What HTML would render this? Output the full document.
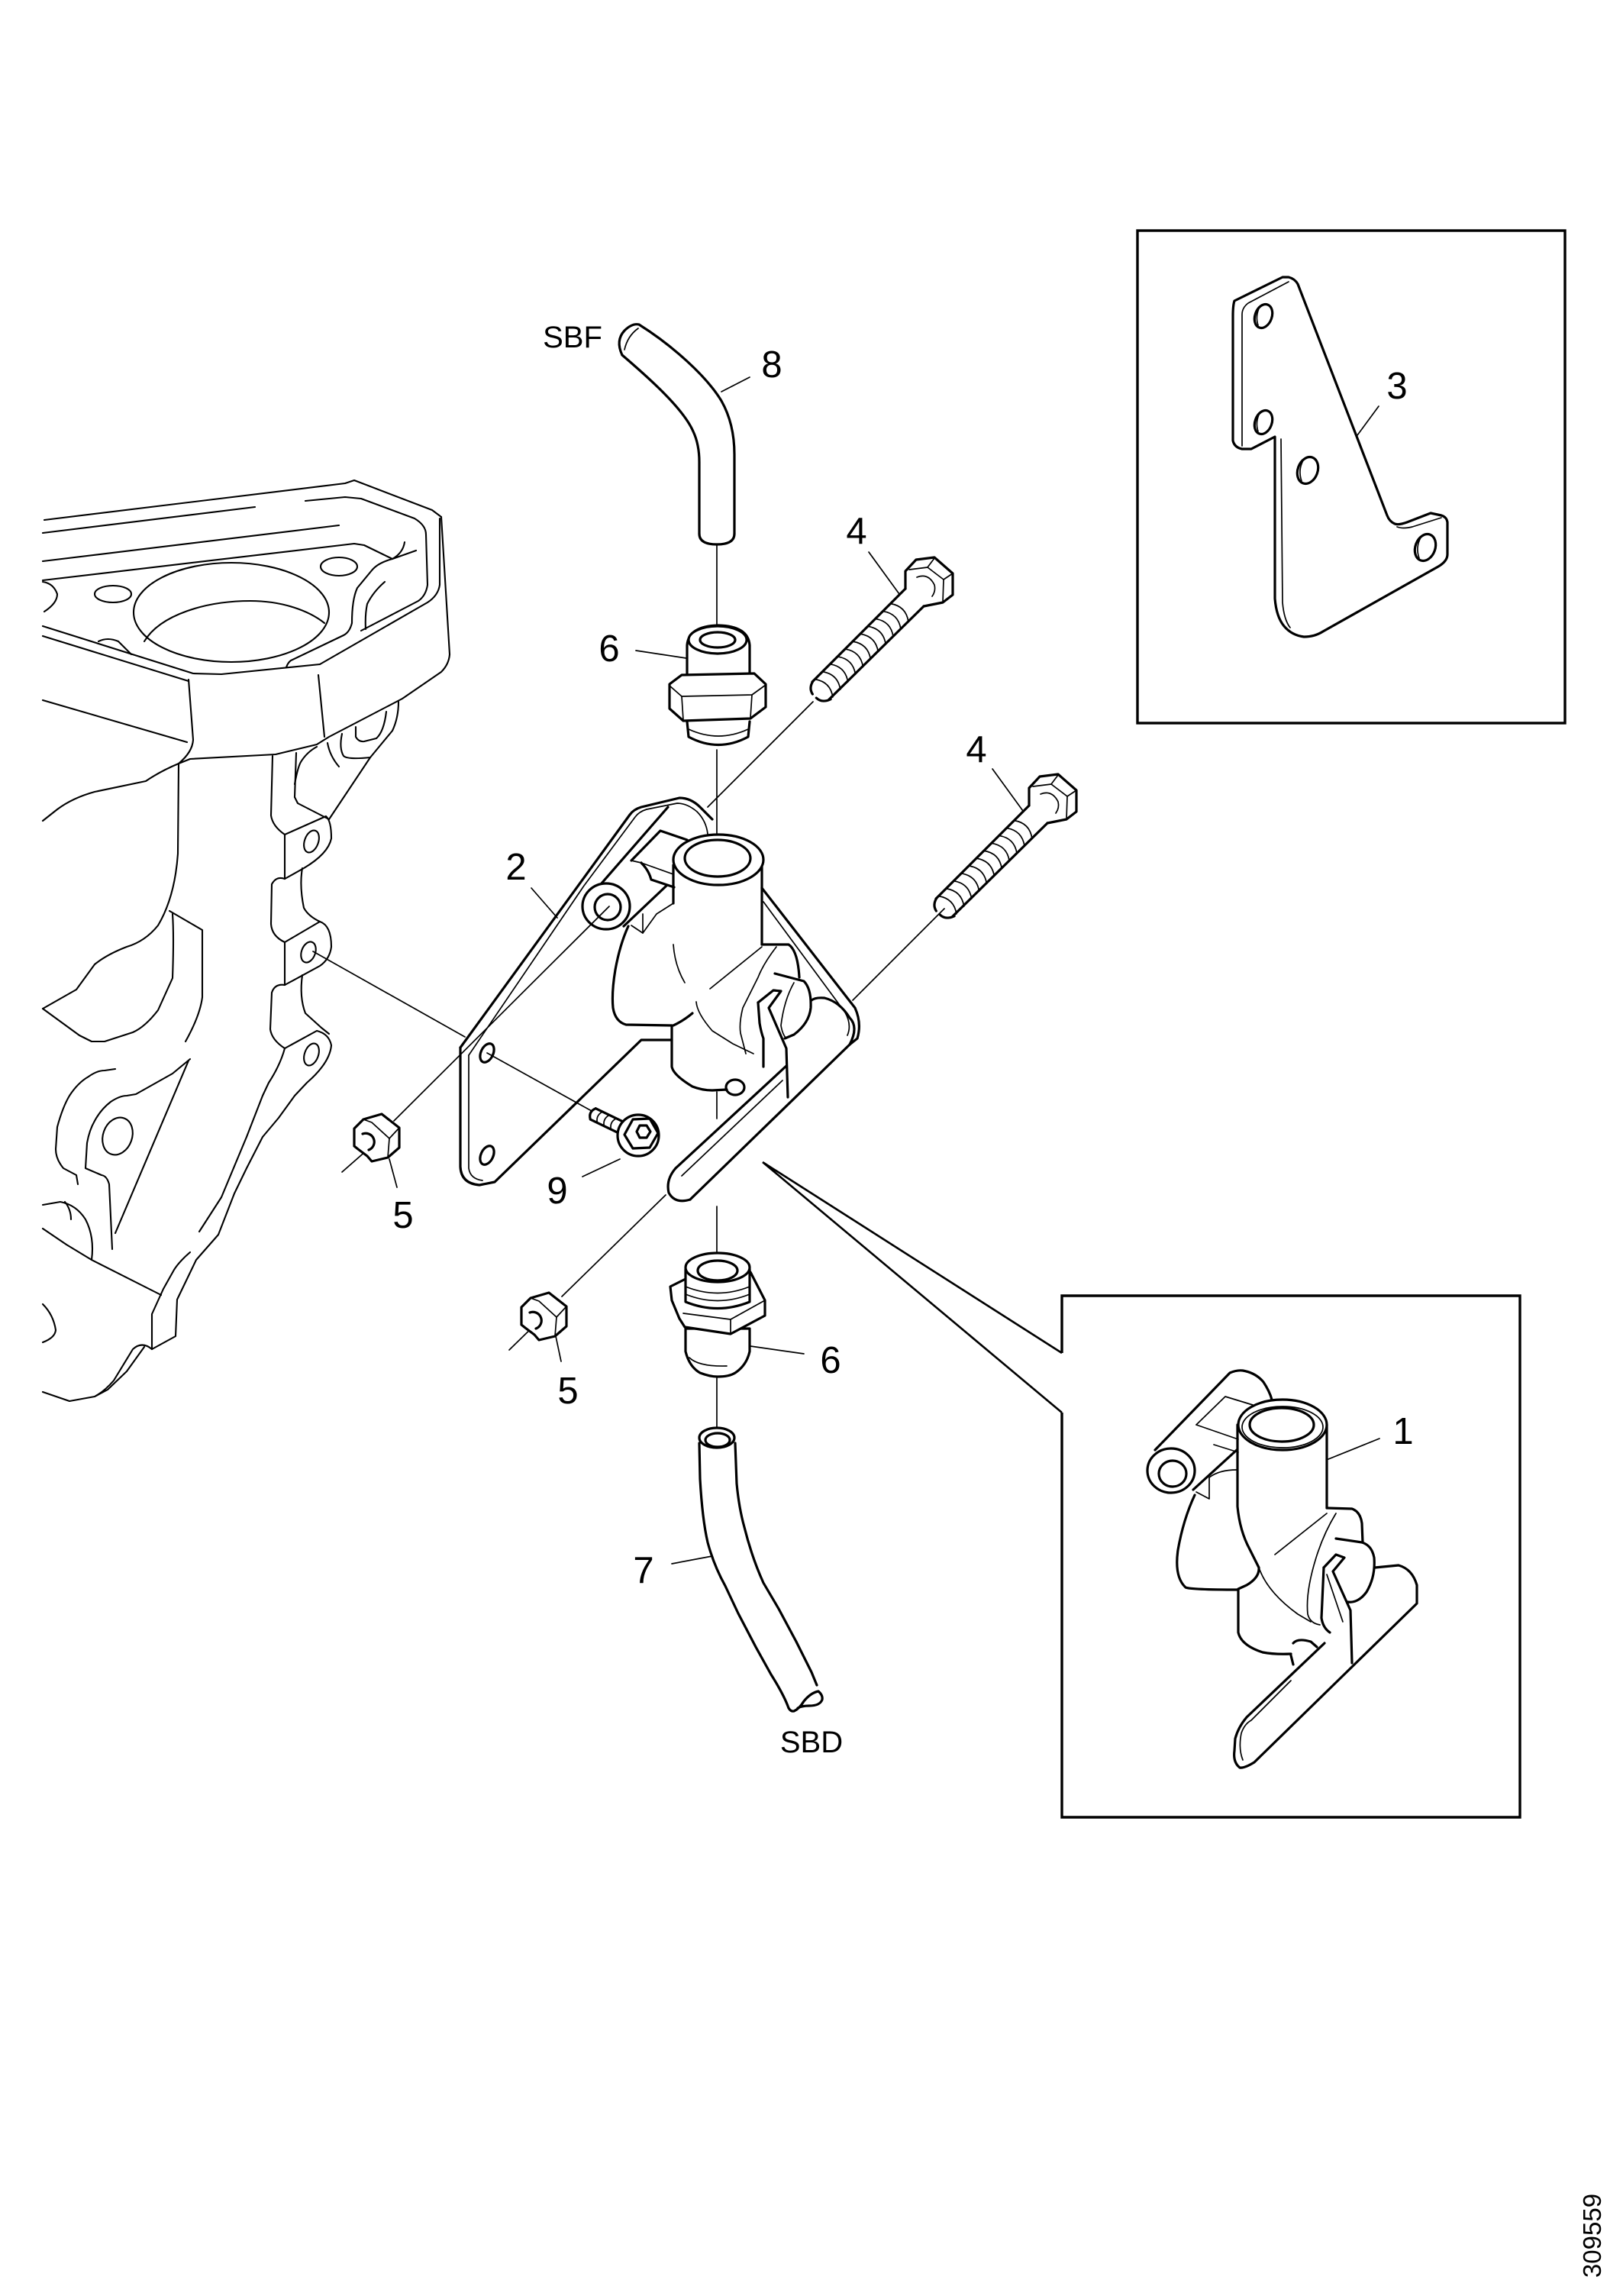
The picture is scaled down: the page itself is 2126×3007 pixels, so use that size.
<!DOCTYPE html>
<html><head><meta charset="utf-8">
<style>
html,body{margin:0;padding:0;background:#fff;}
svg{display:block;}
.t{fill:none;stroke:#000;stroke-width:3.2;stroke-linejoin:round;stroke-linecap:round;}
.tw{fill:#fff;stroke:#000;stroke-width:3.2;stroke-linejoin:round;stroke-linecap:round;}
.m{fill:none;stroke:#000;stroke-width:2.1;stroke-linejoin:round;stroke-linecap:round;}
.n{fill:none;stroke:#000;stroke-width:1.7;stroke-linecap:round;stroke-linejoin:round;}
.b{fill:none;stroke:#000;stroke-width:3.4;}
text{font-family:"Liberation Sans",Arial,sans-serif;fill:#000;}
.d{font-size:49px;text-anchor:middle;}
.s{font-size:40px;text-anchor:middle;}
</style></head><body>
<svg width="2126" height="3007" viewBox="0 0 2126 3007" xmlns="http://www.w3.org/2000/svg">
<rect width="2126" height="3007" fill="#fff"/>

<!-- ================= ENGINE BLOCK ================= -->
<g class="m">
<path d="M58,681 L452,633 L464,629 L566,668 L578,677"/>
<path d="M56,698 L334,664"/>
<path d="M400,656 L452,651 L473,653 L543,679 Q558,688 558,700 L560,766 Q558,780 548,787 L473,826"/>
<path d="M56,735 L444,688"/>
<path d="M56,760 L464,712 L477,714 L514,732 L545,721"/>
<path d="M530,710 Q528,724 514,732"/>
<path d="M56,762 Q70,764 75,778 Q75,790 58,801"/>
<ellipse cx="148" cy="778" rx="24" ry="11"/>
<ellipse cx="444" cy="742" rx="24" ry="12"/>
<ellipse cx="303" cy="802" rx="128" ry="65"/>
<path d="M189,840 C210,805 270,787 328,787 C370,787 405,800 425,816"/>
<path d="M129,840 Q141,834 155,840 L172,857"/>
<path d="M514,732 Q495,737 487,747 L468,770 Q461,785 461,816 Q458,828 450,832 L381,865 Q377,868 375,874"/>
<path d="M504,762 Q489,775 481,791 Q478,805 479,824"/>
<path d="M578,677 L589,857 Q588,870 578,880 L527,915 L431,965 L415,975 L361,988 L249,994 L234,1000"/>
<path d="M576,679 L576,766 Q574,780 560,789 L419,870"/>
<path d="M56,820 L253,882 L290,883 L419,870"/>
<path d="M56,833 L247,892"/>
<path d="M247,890 L253,969 Q252,985 234,1000"/>
<path d="M417,884 L425,965"/>
<path d="M56,917 L245,972"/>
<path d="M234,1000 L233,1118 Q229,1175 207,1212 Q190,1233 166,1240 Q140,1250 124,1263 L100,1296 L56,1321"/>
<path d="M234,1000 Q210,1010 191,1023 L124,1037 Q95,1045 75,1060 L56,1075"/>
<path d="M357,990 L355,1068 Q357,1082 373,1093 L373,1151"/>
<path d="M373,1093 L427,1069 Q434,1075 434,1098 Q430,1118 398,1137 L373,1151"/>
<ellipse cx="408" cy="1102" rx="9" ry="15" transform="rotate(20 408 1102)"/>
<path d="M373,1151 Q362,1147 356,1158 L355,1210 Q356,1226 373,1234 L373,1290"/>
<path d="M373,1234 L419,1207 Q434,1212 434,1240 Q432,1256 419,1265 L373,1290"/>
<ellipse cx="404" cy="1247" rx="9" ry="14" transform="rotate(20 404 1247)"/>
<path d="M396,1137 Q392,1160 398,1189 Q404,1200 419,1207"/>
<path d="M373,1290 Q360,1288 356,1300 L354,1348 Q356,1362 373,1373"/>
<path d="M373,1373 L415,1350 Q431,1354 434,1369 Q432,1392 402,1418 L386,1435 L365,1464 L344,1489 L323,1530 L307,1563 L286,1617 L257,1650 L232,1702 L230,1750 L199,1767"/>
<ellipse cx="408" cy="1381" rx="9" ry="15" transform="rotate(20 408 1381)"/>
<path d="M396,1277 Q392,1306 400,1327 L421,1346 L431,1354"/>
<path d="M373,1373 Q367,1395 352,1418 L344,1435 L323,1489 L290,1568 L261,1613"/>
<path d="M386,1044 L388,986"/>
<path d="M386,1044 L390,1052 L431,1073 L485,992 L514,957 Q522,940 522,919"/>
<path d="M448,961 Q444,980 450,990 Q455,995 485,992"/>
<path d="M466,952 L466,965 Q470,972 477,971 L493,967 Q503,958 506,932"/>
<path d="M429,973 Q432,990 444,1004"/>
<path d="M386,1027 Q390,1005 394,998 Q402,985 415,978"/>
<path d="M222,1193 L265,1218 L265,1306 Q262,1330 243,1364"/>
<path d="M226,1197 Q228,1225 226,1281 L207,1323 Q190,1345 174,1352 L137,1364 L120,1364 L104,1356 L56,1321"/>
<path d="M56,1609 L87,1630 L120,1650 L211,1696"/>
<path d="M249,1640 Q235,1652 228,1663 L214,1688 L199,1721 L199,1767"/>
<path d="M199,1767 Q186,1756 174,1767 L149,1808 Q137,1822 124,1829 L91,1835 L56,1823"/>
<path d="M189,1764 L166,1796 L141,1820 L124,1829"/>
<path d="M120,1650 Q124,1620 112,1597 Q100,1578 79,1574 L56,1578"/>
<path d="M85,1574 Q93,1584 93,1597"/>
<path d="M56,1708 Q70,1722 73,1742 Q72,1752 56,1758"/>
<ellipse cx="154" cy="1488" rx="19" ry="25" transform="rotate(20 154 1488)"/>
<path d="M147,1636 L143,1551 Q140,1540 133,1539 L112,1530 L114,1497 Q117,1480 124,1468 Q132,1453 145,1443 Q157,1435 166,1435 L178,1433 L226,1406 L249,1387"/>
<path d="M151,1615 L247,1389"/>
<path d="M102,1551 L100,1539 L83,1530 Q73,1518 73,1505 L75,1476 Q82,1450 91,1435 Q102,1418 116,1410 Q127,1402 137,1402 L151,1400"/>
</g>

<!-- ================= AXIS / CONNECTOR LINES ================= -->
<g class="n">
<path d="M939,714 L939,848"/>
<path d="M939,982 L939,1137"/>
<path d="M939,1430 L939,1465"/>
<path d="M939,1580 L939,1668"/>
<path d="M939,1805 L939,1890"/>
<path d="M1065,919 L927,1057"/>
<path d="M1237,1190 L1117,1310"/>
<path d="M448,1535 L489,1499"/>
<path d="M736,1698 L872,1565"/>
<path d="M667,1768 L708,1728"/>
<path d="M638,1379 L775,1455"/>
<path d="M410,1246 L609,1358"/>
</g>

<!-- pointer to inset 1 -->
<path d="M999,1522 L1391,1772 M999,1522 L1391,1850" fill="none" stroke="#000" stroke-width="2.6"/>

<!-- ================= HOSE 8 (top) ================= -->
<g class="t">
<path d="M815,465 C850,495 895,535 908,565 Q916,582 916,605 L916,699"/>
<path d="M837,425 C880,452 925,492 945,525 Q962,555 962,595 L962,699"/>
<path d="M916,699 Q916,713 939,713 Q962,713 962,699"/>
<path d="M815,465 Q806,446 818,433 Q828,423 837,425"/>
</g>
<path class="n" d="M818,458 Q822,440 836,430"/>

<!-- ================= UPPER FITTING 6 ================= -->
<g class="t">
<path class="tw" d="M900,892 L900,845 Q902,820 941,819 Q980,820 982,845 L982,892 Z"/>
<ellipse cx="940" cy="838" rx="38" ry="18" fill="#fff"/>
<ellipse cx="940" cy="838" rx="23" ry="10"/>
<path class="tw" d="M877,896 L893,884 L988,882 L1003,896 L1003,926 L983,941 L895,944 L877,928 Z"/>
<path d="M900,945 L902,965 Q941,986 980,965 L982,945"/>
</g>
<g class="n">
<path d="M877,898 L893,912 L985,910 L1003,897"/>
<path d="M893,912 L895,943 M985,910 L983,940"/>
<path d="M902,955 Q941,973 980,955"/>
</g>

<!-- ================= BOLT 4 (lower, and upper shifted) ================= -->
<g id="bolt4">
<g class="t">
<path d="M1348,1055 L1348,1032 L1362,1017 L1386,1014 L1410,1035 L1410,1063 L1397,1073 L1372,1078"/>
<path d="M1348,1055 L1226,1177"/>
<path d="M1372,1078 L1248,1200"/>
</g>
<g class="n">
<path d="M1353,1030 L1377,1027 L1386,1015"/>
<path d="M1377,1027 L1398,1043 L1410,1035"/>
<path d="M1398,1043 L1397,1073"/>
<path d="M1363,1040 Q1378,1034 1386,1050 Q1388,1058 1383,1065"/>
</g>
<g transform="translate(1360,1066.5) rotate(135)">
<g class="n">
<path d="M28,-16.5 Q16,0 28,16.5"/><path d="M42,-16.5 Q30,0 42,16.5"/>
<path d="M56,-16.5 Q44,0 56,16.5"/><path d="M70,-16.5 Q58,0 70,16.5"/>
<path d="M84,-16.5 Q72,0 84,16.5"/><path d="M98,-16.5 Q86,0 98,16.5"/>
<path d="M112,-16.5 Q100,0 112,16.5"/><path d="M126,-16.5 Q114,0 126,16.5"/>
<path d="M140,-16.5 Q128,0 140,16.5"/><path d="M154,-16.5 Q142,0 154,16.5"/>
<path d="M168,-16.5 Q156,0 168,16.5"/>
</g>
<path class="t" d="M172,-16.5 Q184,-12 184,-2 M184,5 Q182,14 172,16.5"/>
</g>
</g>
<use href="#bolt4" transform="translate(-162,-284)"/>

<!-- ================= BRACKET 2 + VALVE (main view) ================= -->
<g class="t">
<!-- bracket -->
<path d="M603,1372 L825,1067 Q830,1060 840,1057 L890,1045 Q905,1045 917,1057 L933,1073"/>
<path d="M603,1372 L603,1528 Q604,1550 628,1552 L648,1548 L840,1362 L880,1362"/>
<ellipse cx="638" cy="1379" rx="8" ry="13" transform="rotate(25 638 1379)"/>
<ellipse cx="638" cy="1513" rx="8" ry="13" transform="rotate(25 638 1513)"/>
<path d="M998,1163 L1120,1320 Q1129,1340 1123,1360 L1113,1368"/>
<!-- valve body -->
<path d="M882,1133 L882,1183"/>
<path d="M998,1123 L998,1237"/>
<path d="M823,1213 Q812,1237 806,1270 Q801,1300 803,1320 Q806,1338 820,1342 L880,1343"/>
<path d="M880,1343 L880,1397 Q882,1408 907,1423 Q920,1428 933,1428 L952,1427"/>
<path d="M907,1327 Q895,1337 882,1343"/>
<path d="M998,1237 L1033,1237 Q1045,1245 1047,1280"/>
<!-- knob -->
<path d="M1015,1275 L1053,1285 Q1063,1295 1062,1320 Q1060,1340 1040,1355 L1028,1360"/>
<!-- top ellipse -->
<ellipse cx="941" cy="1126" rx="59" ry="33" fill="#fff"/>
<ellipse cx="940" cy="1124" rx="43" ry="24"/>
<!-- lever right end -->
<path d="M1113,1368 Q1125,1345 1113,1333 Q1100,1312 1080,1307 Q1068,1306 1063,1310"/>
<!-- bend piece -->
<path d="M993,1313 L1013,1297 L1023,1298 L1007,1320 L1030,1373 L1032,1437"/>
<path d="M993,1313 L995,1340 Q997,1352 1000,1360 L1000,1397"/>
<!-- lever -->
<path d="M885,1530 L1030,1396"/>
<path d="M904,1571 L1113,1368"/>
<path d="M885,1530 Q872,1545 876,1562 Q884,1577 904,1571"/>
<ellipse cx="963" cy="1424" rx="12" ry="10"/>
<!-- clamp arm + bushing -->
<path d="M787,1158 L875,1057"/>
<path d="M817,1213 L873,1160"/>
<path d="M827,1127 L865,1088 L900,1100"/>
<path d="M840,1130 Q850,1140 853,1152 L883,1162"/>
<ellipse cx="794" cy="1187" rx="31" ry="30" fill="#fff"/>
<ellipse cx="796" cy="1188" rx="17" ry="17"/>
</g>
<g class="n">
<path d="M516,1468 L798,1187"/>
<path d="M614,1382 L765,1160 L832,1070 Q837,1063 847,1060 L887,1052 Q900,1052 913,1063 Q925,1075 927,1092"/>
<path d="M614,1382 L614,1530 Q616,1544 632,1546"/>
<path d="M1000,1181 L1107,1326 Q1116,1342 1110,1356"/>
<path d="M882,1237 Q884,1265 897,1287"/>
<path d="M912,1312 Q913,1327 933,1350 L960,1367 L987,1380"/>
<path d="M930,1295 L998,1240"/>
<path d="M1017,1240 Q1000,1262 993,1280 L973,1320 Q968,1340 970,1353 L977,1380"/>
<path d="M1040,1287 Q1027,1310 1023,1343 Q1025,1355 1030,1360"/>
<path d="M893,1540 L1025,1415"/>
<path d="M827,1127 L840,1130 L882,1145"/>
<path d="M842,1222 L860,1197 L882,1183"/>
<path d="M842,1197 L842,1222 L827,1212"/>
</g>

<!-- ================= BOLT 9 ================= -->
<g transform="translate(775,1458) rotate(25.8)">
<path class="t" d="M2,-8 L42,-8 M2,8 L42,8 M2,-8 Q-5,0 2,8"/>
<g class="n"><path d="M12,-8 Q6,0 12,8"/><path d="M22,-8 Q16,0 22,8"/><path d="M32,-8 Q26,0 32,8"/></g>
</g>
<g class="t">
<ellipse cx="836" cy="1487" rx="27" ry="27" fill="#fff"/>
<polygon points="862,1484 851,1503 829,1504 818,1486 829,1466 851,1465" fill="#fff"/>
<polygon points="852,1482 847,1490 838,1490 834,1482 838,1474 847,1474"/>
</g>

<!-- ================= NUTS 5 ================= -->
<g id="nut" transform="translate(493,1490)">
<path class="tw" d="M-29,-12 L-17,-24 L7,-31 L30,-13 L30,13 L15,26 L-6,31 L-12,24 L-24,15 L-29,11 Z"/>
<g class="n"><path d="M-17,-24 L-6,-20 L17,1 L30,-13"/><path d="M17,1 L15,26"/></g>
<path class="t" d="M-18,-5 A11,11 0 1 1 -10,16"/>
</g>
<use href="#nut" transform="translate(219,234)"/>

<!-- ================= LOWER FITTING 6 ================= -->
<g class="t">
<path class="tw" d="M898,1740 L898,1770 Q903,1790 917,1798 Q930,1803 940,1803 Q955,1803 963,1798 Q978,1788 982,1770 L982,1740 Z"/>
<path class="tw" d="M878,1685 L898,1675 L983,1666 L1002,1703 L1002,1723 L957,1747 L897,1738 L890,1727 L880,1703 Z"/>
<path class="tw" d="M898,1662 L898,1705 Q940,1722 982,1705 L982,1662 Z"/>
<ellipse cx="940" cy="1660" rx="42" ry="19" fill="#fff"/>
<ellipse cx="940" cy="1664" rx="26" ry="13"/>
</g>
<g class="n">
<path d="M898,1685 Q940,1702 982,1685"/>
<path d="M898,1695 Q940,1712 982,1695"/>
<path d="M895,1720 L957,1728 L1002,1703"/>
<path d="M957,1728 L957,1747"/>
<path d="M903,1778 Q915,1790 952,1789"/>
</g>

<!-- ================= HOSE 7 ================= -->
<g class="t">
<path d="M916,1890 L917,1937 Q920,1990 927,2020 Q935,2050 950,2077 L967,2113 L990,2157 L1010,2193 Q1027,2220 1033,2237 Q1036,2242 1040,2241"/>
<path d="M963,1890 L965,1943 Q968,1975 975,2000 Q985,2040 1000,2073 L1020,2107 L1043,2150 L1063,2190 L1070,2207"/>
<path d="M1040,2241 Q1047,2238 1053,2228 Q1062,2217 1072,2215 Q1078,2220 1077,2226 Q1074,2234 1060,2234 Q1050,2234 1045,2237"/>
<ellipse cx="939" cy="1883" rx="23" ry="13" fill="#fff"/>
<ellipse cx="940" cy="1886" rx="16" ry="9"/>
</g>

<!-- ================= LEADERS ================= -->
<g class="n">
<path d="M945,513 L982,494"/>
<path d="M833,852 L899,862"/>
<path d="M1138,723 L1178,778"/>
<path d="M1300,1007 L1340,1062"/>
<path d="M696,1163 L730,1202"/>
<path d="M510,1518 L520,1555"/>
<path d="M763,1541 L812,1518"/>
<path d="M728,1750 L735,1783"/>
<path d="M983,1763 L1053,1773"/>
<path d="M880,2048 L933,2038"/>
<path d="M1806,532 L1778,570"/>
<path d="M1807,1884 L1740,1911"/>
</g>

<!-- ================= LABELS ================= -->
<text class="s" x="750" y="455">SBF</text>
<text class="s" x="1063" y="2295">SBD</text>
<text class="d" x="1011" y="494">8</text>
<text class="d" x="798" y="866">6</text>
<text class="d" x="1122" y="712">4</text>
<text class="d" x="1279" y="998">4</text>
<text class="d" x="676" y="1152">2</text>
<text class="d" x="528" y="1608">5</text>
<text class="d" x="730" y="1576">9</text>
<text class="d" x="744" y="1838">5</text>
<text class="d" x="1088" y="1798">6</text>
<text class="d" x="843" y="2073">7</text>
<text class="d" x="1830" y="522">3</text>
<text class="d" x="1838" y="1891">1</text>
<text x="0" y="0" font-size="33" text-anchor="middle" transform="translate(2097,2928) rotate(-90)">309559</text>

<!-- ================= INSET BOX 3 ================= -->
<rect class="b" x="1490" y="302" width="560" height="645"/>
<g class="t">
<path d="M1680,363 L1617,394 Q1615,400 1615,414 L1615,577 Q1617,586 1627,588 L1639,588 L1670,572 L1670,784 Q1672,808 1682,820 Q1692,832 1708,834 Q1722,834 1733,827 L1884,742 Q1896,735 1896,726 L1896,684 Q1895,677 1888,675 L1874,672 L1843,684 Q1832,688 1827,686 Q1820,683 1817,675 L1700,372 Q1696,365 1688,363 Z"/>
<ellipse cx="1655" cy="414" rx="11" ry="16" transform="rotate(20 1655 414)"/>
<ellipse cx="1655" cy="553" rx="11" ry="16" transform="rotate(20 1655 553)"/>
<ellipse cx="1713" cy="616" rx="13" ry="18" transform="rotate(20 1713 616)"/>
<ellipse cx="1867" cy="717" rx="13" ry="18" transform="rotate(20 1867 717)"/>
</g>
<g class="n">
<path d="M1688,369 L1635,397 Q1627,403 1627,412 L1627,584"/>
<path d="M1678,575 L1680,789 Q1682,812 1690,822"/>
<path d="M1888,678 L1850,690 Q1838,693 1830,690"/>
<path d="M1650,402 Q1644,414 1648,426"/>
<path d="M1650,541 Q1644,553 1648,565"/>
<path d="M1707,603 Q1700,616 1705,630"/>
<path d="M1861,704 Q1854,717 1859,731"/>
</g>

<!-- ================= INSET BOX 1 ================= -->
<path class="b" d="M1391,1772 L1391,1697 L1991,1697 L1991,2380 L1391,2380 L1391,1850"/>
<g class="t">
<path d="M1513,1899 L1611,1798 Q1620,1794 1628,1795 Q1645,1798 1655,1810 Q1663,1822 1666,1833"/>
<path d="M1563,1951 L1620,1899"/>
<ellipse cx="1534" cy="1926" rx="31" ry="29" fill="#fff"/>
<ellipse cx="1536" cy="1930" rx="18" ry="17"/>
<path d="M1621,1866 L1621,1973 Q1624,2005 1637,2029 L1649,2053 Q1650,2066 1633,2076 L1622,2081"/>
<path d="M1738,1866 L1738,1975"/>
<ellipse cx="1680" cy="1866" rx="58" ry="33" fill="#fff"/>
<ellipse cx="1679" cy="1866" rx="42" ry="22"/>
<path d="M1565,1958 Q1550,1990 1543,2030 Q1538,2065 1553,2079 Q1560,2082 1622,2082"/>
<path d="M1622,2082 L1622,2138 Q1626,2155 1654,2164 Q1670,2167 1691,2166"/>
<path d="M1738,1975 L1771,1976 Q1782,1980 1784,1995 L1785,2020"/>
<path d="M1750,2015 L1784,2020 Q1797,2024 1800,2040 Q1802,2065 1790,2085 Q1779,2100 1765,2098"/>
<path d="M1734,2053 L1750,2036 L1761,2040 L1746,2058 L1769,2109 L1771,2178"/>
<path d="M1734,2053 L1731,2119 Q1733,2132 1742,2138"/>
<path d="M1801,2053 L1832,2050 Q1850,2055 1856,2076 L1856,2100 L1643,2308 Q1630,2316 1624,2315 Q1615,2308 1617,2293 L1618,2277 Q1622,2262 1633,2249 L1735,2152"/>
<path d="M1694,2152 Q1700,2145 1717,2150 L1725,2157"/>
<path d="M1691,2168 L1694,2180"/>
</g>
<g class="n">
<ellipse cx="1680" cy="1869" rx="53" ry="27"/>
<path d="M1567,1866 L1605,1829 L1641,1840"/>
<path d="M1567,1866 L1622,1885"/>
<path d="M1590,1892 L1622,1902"/>
<path d="M1567,1954 L1584,1963 L1584,1935 Q1597,1925 1620,1925"/>
<path d="M1649,2053 Q1660,2085 1700,2114 L1717,2124"/>
<path d="M1670,2036 L1738,1982"/>
<path d="M1750,1982 Q1734,2008 1724,2040 Q1710,2085 1713,2114 Q1716,2126 1729,2128"/>
<path d="M1738,2062 L1759,2124"/>
<path d="M1628,2305 Q1622,2290 1626,2270 Q1630,2258 1639,2253 L1691,2201"/>
</g>

</svg>
</body></html>
